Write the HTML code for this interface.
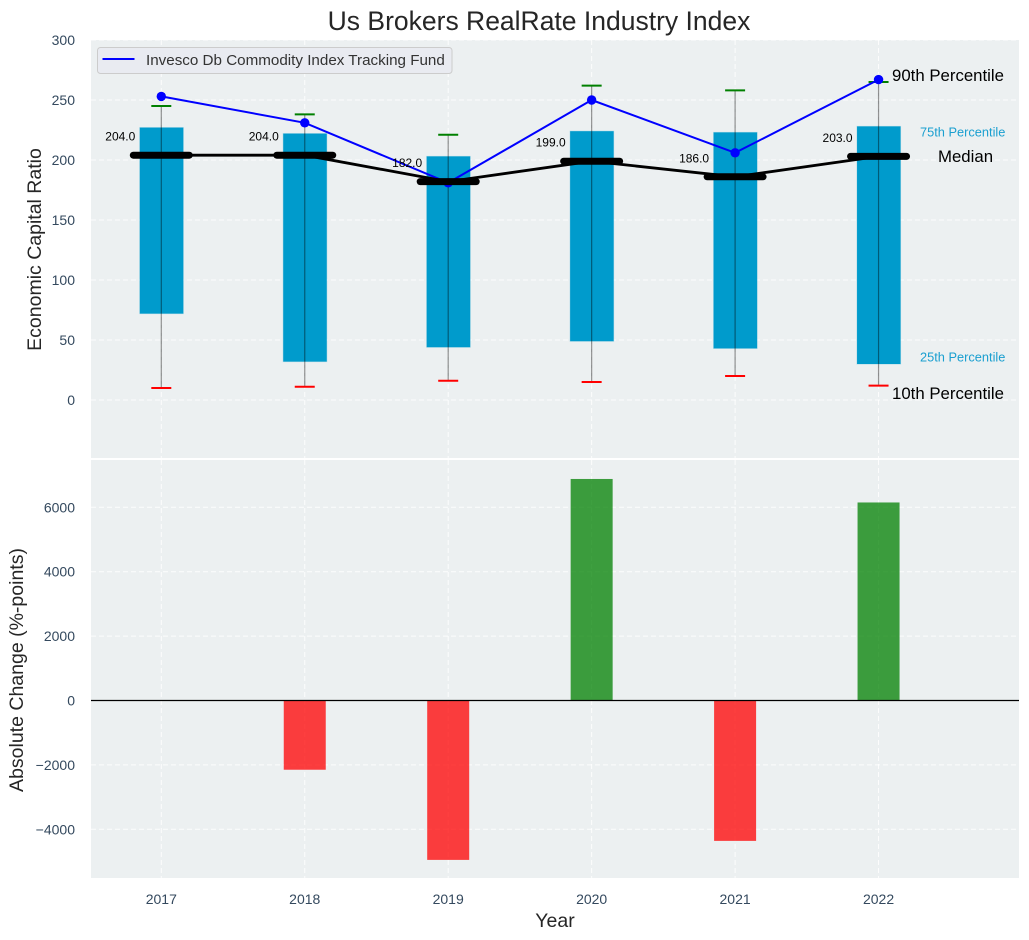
<!DOCTYPE html>
<html lang="en">
<head>
<meta charset="utf-8">
<title>Us Brokers RealRate Industry Index</title>
<style>
html,body{margin:0;padding:0;background:#fff;width:1029px;height:940px;overflow:hidden}
svg{display:block;font-family:"Liberation Sans",Arial,sans-serif}
</style>
</head>
<body>
<svg id="chart" xmlns="http://www.w3.org/2000/svg" width="1029" height="940" viewBox="0 0 1029 940"></svg>
<script>
const years = [2017, 2018, 2019, 2020, 2021, 2022];
const p10 = [10, 11, 16, 15, 20, 12];
const p25 = [72, 32, 44, 49, 43, 30];
const medians = [204, 204, 182, 199, 186, 203];
const p75 = [227, 222, 203, 224, 223, 228];
const p90 = [245, 238, 221, 262, 258, 265];
const fundValues = [253, 231, 181, 250, 206, 267];
const changeValues = [0, -2150, -4950, 6880, -4360, 6150];
const topTicks = [0, 50, 100, 150, 200, 250, 300];
const bottomTicks = [-4000, -2000, 0, 2000, 4000, 6000];

const svg = document.getElementById('chart');
const NS = 'http://www.w3.org/2000/svg';
function make(tag, attrs, parent) {
  const el = document.createElementNS(NS, tag);
  for (const k in attrs) el.setAttribute(k, attrs[k]);
  (parent || svg).appendChild(el);
  return el;
}
function label(attrs, str, parent) {
  const el = make('text', attrs, parent);
  el.textContent = str;
  return el;
}
const PL = 91, PR = 1019, T1 = 40, B1 = 458, T2 = 460, B2 = 878;
const x = v => 161.3 + (v - 2017) * 143.45;
const yTop = v => 400 - v * 1.2;
const yBot = v => 700.5 - v * 0.0322;
const GRID = {stroke:'#fff', 'stroke-width':1, 'stroke-dasharray':'5 3', 'stroke-opacity':0.85};
const TICK = '#34495e';

let el;
el = label({x:539, y:30, 'text-anchor':'middle', 'font-size':26.5, fill:'#262626'}, 'Us Brokers RealRate Industry Index');



/* ---------- top panel ---------- */
const topPanel = make('g', {});


el = make('rect', {x:PL, y:T1, width:PR-PL, height:B1-T1, fill:'#ecf0f1'}, topPanel);



topTicks.forEach(t => {
  el = make('line', Object.assign({x1:PL, x2:PR, y1:yTop(t), y2:yTop(t)}, GRID), topPanel);
  
  
  el = label({x:75, y:yTop(t)+5, 'text-anchor':'end', 'font-size':14, fill:TICK}, String(t), topPanel);
  
  
});
years.forEach(yr => {
  el = make('line', Object.assign({x1:x(yr), x2:x(yr), y1:T1, y2:B1}, GRID), topPanel);
  
  
});

years.forEach((yr, i) => {
  const cx = x(yr);
  el = make('rect', {x:cx-21.5, y:yTop(p75[i]), width:43.5, height:yTop(p25[i])-yTop(p75[i]), fill:'#009bcc', stroke:'#009bcc', 'stroke-opacity':0.25, 'stroke-width':1}, topPanel);
  
  
  el = make('line', {x1:cx, x2:cx, y1:yTop(p90[i]), y2:yTop(p10[i]), stroke:'#000', 'stroke-opacity':0.42, 'stroke-width':1.2}, topPanel);
  
  
  el = make('line', {x1:cx-10, x2:cx+10, y1:yTop(p90[i]), y2:yTop(p90[i]), stroke:'#008000', 'stroke-width':2}, topPanel);
  
  
  el = make('line', {x1:cx-10, x2:cx+10, y1:yTop(p10[i]), y2:yTop(p10[i]), stroke:'#ff0000', 'stroke-width':2}, topPanel);
  
  
});

el = make('polyline', {points:years.map((yr,i)=>x(yr)+','+yTop(fundValues[i])).join(' '), fill:'none', stroke:'#0000ff', 'stroke-width':2}, topPanel);


years.forEach((yr, i) => {
  el = make('circle', {cx:x(yr), cy:yTop(fundValues[i]), r:4.7, fill:'#0000ff'}, topPanel);
  
  
});

el = make('polyline', {points:years.map((yr,i)=>x(yr)+','+yTop(medians[i])).join(' '), fill:'none', stroke:'#000', 'stroke-width':2.8}, topPanel);


years.forEach((yr, i) => {
  const cx = x(yr);
  el = make('line', {x1:cx-28, x2:cx+28, y1:yTop(medians[i]), y2:yTop(medians[i]), stroke:'#000', 'stroke-width':7, 'stroke-linecap':'round'}, topPanel);
  
  
  el = label({x:cx-26, y:yTop(medians[i])-14.5, 'text-anchor':'end', 'font-size':12, fill:'#000'}, medians[i].toFixed(1), topPanel);
  
  
});

el = label({x:892, y:81, 'font-size':16.8, fill:'#000'}, '90th Percentile', topPanel);


el = label({x:920, y:136.5, 'font-size':12.8, fill:'#1a9fd0'}, '75th Percentile', topPanel);


el = label({x:938, y:162, 'font-size':16.8, fill:'#000'}, 'Median', topPanel);


el = label({x:920, y:361.5, 'font-size':12.8, fill:'#1a9fd0'}, '25th Percentile', topPanel);


el = label({x:892, y:399, 'font-size':16.8, fill:'#000'}, '10th Percentile', topPanel);



const legend = make('g', {}, topPanel);


el = make('rect', {x:97.5, y:47.5, width:354.5, height:26, rx:3, fill:'#e9ebf1', stroke:'#cccccc', 'stroke-width':1}, legend);


el = make('line', {x1:102.5, x2:134.5, y1:59, y2:59, stroke:'#0000ff', 'stroke-width':2}, legend);


el = label({x:146, y:65, 'font-size':15.2, fill:'#333'}, 'Invesco Db Commodity Index Tracking Fund', legend);



el = label({x:0, y:0, 'text-anchor':'middle', 'font-size':19.5, fill:'#262626', transform:'translate(41,249.5) rotate(-90)'}, 'Economic Capital Ratio');



/* ---------- bottom panel ---------- */
const botPanel = make('g', {});


el = make('rect', {x:PL, y:T2, width:PR-PL, height:B2-T2, fill:'#ecf0f1'}, botPanel);



bottomTicks.forEach(t => {
  el = make('line', Object.assign({x1:PL, x2:PR, y1:yBot(t), y2:yBot(t)}, GRID), botPanel);
  
  
  el = label({x:75, y:yBot(t)+5, 'text-anchor':'end', 'font-size':14, fill:TICK}, String(t).replace('-', '\u2212'), botPanel);
  
  
});
years.forEach(yr => {
  el = make('line', Object.assign({x1:x(yr), x2:x(yr), y1:T2, y2:B2}, GRID), botPanel);
  
  
  el = label({x:x(yr), y:904, 'text-anchor':'middle', 'font-size':14, fill:TICK}, String(yr), botPanel);
  
  
});

years.forEach((yr, i) => {
  const v = changeValues[i];
  if (!v) return;
  const top = Math.min(yBot(v), yBot(0));
  const h = Math.abs(yBot(v) - yBot(0));
  el = make('rect', {x:x(yr)-21, y:top, width:42, height:h, fill:v > 0 ? '#008000' : '#ff0000', 'fill-opacity':0.75}, botPanel);
  
  
});

el = make('line', {x1:PL, x2:PR, y1:yBot(0), y2:yBot(0), stroke:'#000', 'stroke-width':1.2}, botPanel);



el = label({x:0, y:0, 'text-anchor':'middle', 'font-size':19.5, fill:'#262626', transform:'translate(23,670) rotate(-90)'}, 'Absolute Change (%-points)');


el = label({x:555, y:927, 'text-anchor':'middle', 'font-size':19.5, fill:'#262626'}, 'Year');


</script>
</body>
</html>
